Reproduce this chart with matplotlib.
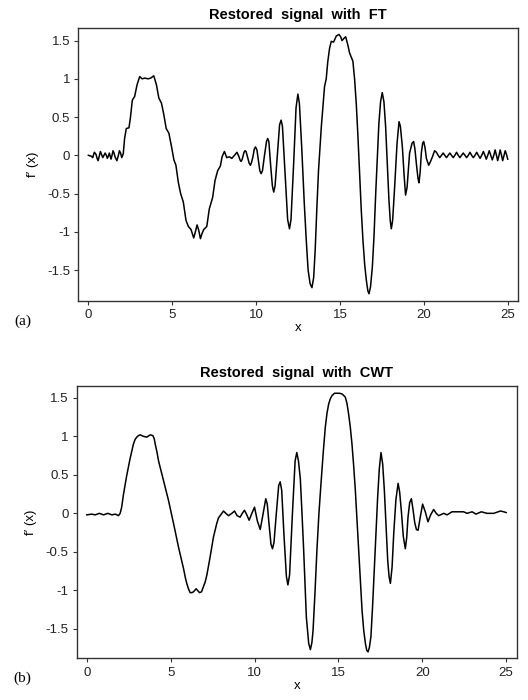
import matplotlib
matplotlib.use("Agg")
import matplotlib.pyplot as plt

# values
# (a) restored signal with FT
ft_x = [0.00, 0.16, 0.26, 0.31, 0.36, 0.46, 0.52, 0.58, 0.65, 0.72, 0.79, 0.86,
        0.93, 1.00, 1.07, 1.13, 1.19, 1.25, 1.30, 1.35, 1.41, 1.47, 1.53, 1.59,
        1.70, 1.78, 1.85, 1.92, 1.99, 2.08, 2.16, 2.26, 2.42, 2.50, 2.62, 2.76,
        2.90, 3.06, 3.20, 3.36, 3.56, 3.72, 3.90, 4.06, 4.20, 4.36, 4.50, 4.64,
        4.80, 4.96, 5.10, 5.22, 5.36, 5.50, 5.66, 5.82, 5.96, 6.12, 6.28, 6.38,
        6.48, 6.58, 6.68, 6.78, 6.88, 7.06, 7.21, 7.41, 7.55, 7.71, 7.87, 7.97,
        8.11, 8.25, 8.41, 8.55, 8.71, 8.86, 8.98, 9.04, 9.10, 9.16, 9.22, 9.28,
        9.34, 9.40, 9.50, 9.58, 9.66, 9.73, 9.81, 9.89, 9.96, 10.05, 10.13, 10.22,
        10.30, 10.38, 10.50, 10.62, 10.69, 10.76, 10.87, 10.97, 11.05, 11.13,
        11.27, 11.40, 11.49, 11.57, 11.74, 11.88, 11.99, 12.08, 12.24, 12.38,
        12.49, 12.58, 12.72, 12.87, 12.99, 13.10, 13.22, 13.33, 13.43, 13.52,
        13.62, 13.72, 13.89, 14.08, 14.18, 14.27, 14.38, 14.48, 14.62, 14.78,
        14.94, 15.04, 15.12, 15.24, 15.34, 15.46, 15.57, 15.77, 15.87, 15.97,
        16.07, 16.17, 16.27, 16.37, 16.47, 16.57, 16.66, 16.73, 16.82, 16.93,
        17.03, 17.13, 17.23, 17.32, 17.42, 17.52, 17.62, 17.72, 17.82, 17.92,
        18.00, 18.06, 18.14, 18.26, 18.40, 18.52, 18.60, 18.72, 18.82, 18.91,
        19.00, 19.15, 19.30, 19.39, 19.47, 19.55, 19.65, 19.71, 19.78, 19.85,
        19.93, 19.99, 20.07, 20.15, 20.29, 20.40, 20.51, 20.64, 20.75, 20.85,
        20.95, 21.05, 21.15, 21.25, 21.35, 21.45, 21.55, 21.65, 21.75, 21.85,
        21.95, 22.05, 22.15, 22.25, 22.35, 22.45, 22.55, 22.65, 22.75, 22.85,
        22.95, 23.05, 23.15, 23.25, 23.35, 23.45, 23.55, 23.64, 23.72, 23.81,
        23.90, 23.99, 24.08, 24.17, 24.25, 24.33, 24.40, 24.48, 24.55, 24.63,
        24.70, 24.78, 24.85, 24.93, 25.00]
ft_y = [0.00, -0.01, -0.03, 0.01, 0.04, 0.01, -0.04, -0.07, -0.01, 0.05, 0.01, -0.03,
        0.00, 0.03, 0.00, -0.04, -0.01, 0.03, -0.01, -0.05, 0.00, 0.06, 0.03, -0.02,
        -0.07, -0.01, 0.06, 0.03, -0.03, 0.02, 0.22, 0.35, 0.36, 0.48, 0.72, 0.77,
        0.92, 1.03, 1.00, 1.01, 1.00, 1.01, 1.04, 0.92, 0.75, 0.68, 0.53, 0.35,
        0.29, 0.11, -0.06, -0.13, -0.35, -0.50, -0.61, -0.85, -0.93, -0.97, -1.08, -1.00,
        -0.91, -0.98, -1.09, -1.02, -0.97, -0.93, -0.70, -0.55, -0.33, -0.20, -0.14, -0.02,
        0.05, -0.03, -0.02, -0.04, 0.00, 0.04, -0.02, -0.06, -0.08, -0.06, -0.01, 0.04,
        0.06, 0.05, -0.03, -0.10, -0.13, -0.09, -0.02, 0.08, 0.11, 0.07, -0.06, -0.20,
        -0.24, -0.20, 0.00, 0.18, 0.22, 0.18, -0.14, -0.40, -0.48, -0.40,
        0.02, 0.40, 0.46, 0.38, -0.30, -0.84, -0.96, -0.84, -0.10, 0.62,
        0.80, 0.68, 0.10, -0.62, -1.11, -1.50, -1.68, -1.73, -1.60, -1.25,
        -0.70, -0.20, 0.38, 0.90, 1.00, 1.22, 1.40, 1.49, 1.48, 1.56,
        1.58, 1.55, 1.50, 1.53, 1.55, 1.45, 1.34, 1.23, 1.00, 0.68,
        0.25, -0.24, -0.72, -1.11, -1.42, -1.63, -1.77, -1.81, -1.72, -1.46,
        -1.05, -0.50, 0.00, 0.42, 0.70, 0.82, 0.70, 0.38, -0.10, -0.59,
        -0.86, -0.96, -0.85, -0.41, 0.15, 0.44, 0.38, 0.11, -0.25, -0.52,
        -0.42, 0.03, 0.16, 0.18, 0.08, -0.10, -0.30, -0.36, -0.22, 0.03,
        0.16, 0.18, 0.10, -0.04, -0.13, -0.08, -0.02, 0.06, 0.04, 0.00,
        -0.03, 0.00, 0.03, 0.00, -0.03, 0.00, 0.03, 0.00, -0.03, 0.00,
        0.04, 0.00, -0.03, 0.00, 0.03, 0.00, -0.03, 0.00, 0.04, 0.00,
        -0.03, 0.00, 0.04, 0.00, -0.04, 0.00, 0.05, 0.00, -0.05, 0.00,
        0.06, 0.00, -0.06, 0.00, 0.07, 0.00, -0.07, 0.00, 0.07, 0.00,
        -0.07, 0.00, 0.06, 0.01, -0.05]

# (b) restored signal with CWT
cwt_x = [0.00, 0.30, 0.50, 0.75, 1.00, 1.25, 1.50, 1.70, 1.89, 1.99, 2.08, 2.19,
         2.38, 2.58, 2.78, 2.88, 2.98, 3.08, 3.18, 3.38, 3.58, 3.78, 3.94, 4.02,
         4.08, 4.18, 4.28, 4.57, 4.87, 5.17, 5.47, 5.77, 5.88, 5.96, 6.06, 6.16,
         6.26, 6.36, 6.52, 6.72, 6.84, 6.96, 7.06, 7.16, 7.35, 7.55, 7.75, 7.85,
         7.95, 8.15, 8.29, 8.45, 8.65, 8.81, 8.96, 9.14, 9.27, 9.40, 9.54, 9.68,
         9.84, 10.00, 10.17, 10.34, 10.50, 10.67, 10.76, 10.87, 10.98, 11.07, 11.16,
         11.30, 11.44, 11.53, 11.62, 11.76, 11.90, 11.99, 12.09, 12.26, 12.42, 12.52,
         12.62, 12.73, 12.83, 12.93, 13.09, 13.23, 13.33, 13.42, 13.49, 13.60, 13.72,
         13.84, 13.96, 14.10, 14.22, 14.32, 14.42, 14.52, 14.62, 14.77, 14.92, 15.07,
         15.22, 15.32, 15.41, 15.51, 15.61, 15.71, 15.81, 15.91, 16.01, 16.11, 16.21,
         16.31, 16.41, 16.51, 16.61, 16.69, 16.77, 16.85, 16.94, 17.04, 17.14, 17.24,
         17.34, 17.44, 17.54, 17.64, 17.74, 17.84, 17.94, 18.02, 18.10, 18.20, 18.30,
         18.43, 18.56, 18.65, 18.75, 18.87, 18.99, 19.07, 19.15, 19.25, 19.35, 19.45,
         19.55, 19.65, 19.75, 19.88, 20.02, 20.18, 20.34, 20.50, 20.68, 20.83, 20.98,
         21.28, 21.48, 21.77, 22.47, 22.67, 22.97, 23.20, 23.52, 23.86, 24.26, 24.66,
         24.86, 25.00]
cwt_y = [-0.02, -0.01, -0.02, 0.00, -0.02, 0.00, -0.02, -0.01, -0.03, 0.00, 0.08, 0.25,
         0.49, 0.71, 0.90, 0.96, 0.99, 1.01, 1.02, 1.00, 0.99, 1.02, 1.01, 0.97,
         0.90, 0.80, 0.68, 0.43, 0.17, -0.13, -0.44, -0.72, -0.84, -0.91, -0.98, -1.03,
         -1.03, -1.02, -0.98, -1.03, -1.02, -0.95, -0.89, -0.80, -0.57, -0.31, -0.13, -0.06,
         -0.03, 0.03, 0.00, -0.03, 0.00, 0.03, -0.03, -0.05, 0.00, 0.04, -0.02, -0.09,
         0.00, 0.08, -0.10, -0.21, -0.02, 0.19, 0.12, -0.15, -0.40, -0.46, -0.38,
         0.00, 0.36, 0.41, 0.30, -0.30, -0.82, -0.93, -0.80, 0.00, 0.68, 0.79,
         0.68, 0.45, 0.00, -0.48, -1.35, -1.69, -1.77, -1.68, -1.52, -1.05, -0.48,
         0.00, 0.38, 0.80, 1.12, 1.30, 1.42, 1.49, 1.53, 1.56, 1.56, 1.56,
         1.55, 1.53, 1.51, 1.43, 1.29, 1.12, 0.90, 0.62, 0.30, -0.09, -0.48,
         -0.88, -1.26, -1.52, -1.69, -1.78, -1.80, -1.74, -1.60, -1.20, -0.74, -0.25,
         0.21, 0.58, 0.79, 0.64, 0.30, -0.15, -0.61, -0.82, -0.91, -0.70, -0.26,
         0.18, 0.39, 0.28, 0.04, -0.30, -0.46, -0.32, -0.05, 0.14, 0.19, 0.05,
         -0.12, -0.21, -0.22, -0.05, 0.12, 0.02, -0.11, -0.02, 0.05, 0.00, -0.03,
         0.00, -0.02, 0.02, 0.02, 0.00, 0.02, -0.01, 0.02, 0.00, 0.00, 0.03,
         0.02, 0.01]

yticks = [1.5, 1, 0.5, 0, -0.5, -1, -1.5]
ytick_labels = ["1.5", "1", "0.5", "0", "-0.5", "-1", "-1.5"]
xticks = [0, 5, 10, 15, 20, 25]

plt.rcParams["font.family"] = ["Liberation Sans", "DejaVu Sans"]

fig = plt.figure(figsize=(5.28, 7.0), dpi=100)


def panel(rect, x, y, title, tag, ylim):
    ax = fig.add_axes(rect)
    ax.plot(x, y, color="black", lw=1.1, solid_joinstyle="round")
    ax.set_xlim(-0.6, 25.63)
    ax.set_ylim(*ylim)
    ax.set_xticks(xticks)
    ax.set_xticklabels([str(t) for t in xticks], fontsize=9.5, color="#222222")
    ax.set_yticks(yticks)
    ax.set_yticklabels(ytick_labels, fontsize=9.5, color="#222222")
    ax.tick_params(direction="out", length=3, width=0.8, color="#333333",
                   top=False, right=False, pad=3)
    for s in ax.spines.values():
        s.set_color("#333333")
        s.set_linewidth(1.0)
    ax.set_title(title, fontsize=10.5, fontweight="bold", pad=7)
    ax.set_xlabel("x", fontsize=9.5, labelpad=1)
    ax.set_ylabel("f\u2032 (x)", fontsize=9.5, labelpad=6)
    ax.text(-0.145, -0.075, tag, transform=ax.transAxes, fontsize=11,
            family="Liberation Serif", va="center", ha="left")
    return ax


panel([0.1483, 0.5705, 0.8333, 0.3890], ft_x, ft_y,
      "Restored  signal  with  FT", "(a)", (-1.90, 1.66))
panel([0.1453, 0.0596, 0.8333, 0.3885], cwt_x, cwt_y,
      "Restored  signal  with  CWT", "(b)", (-1.883, 1.65))

plt.savefig("out.png", dpi=100)
